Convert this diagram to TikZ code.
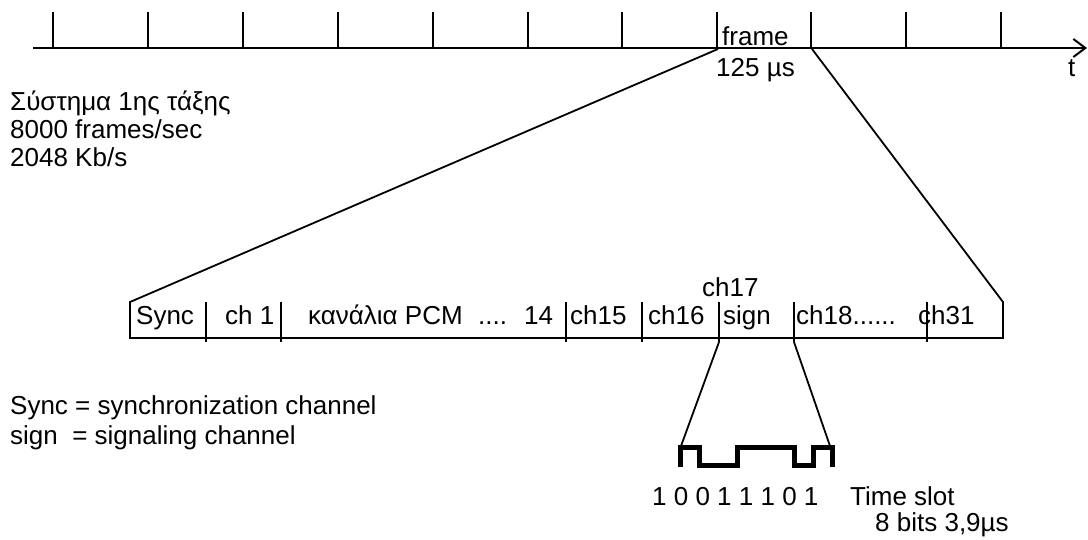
\documentclass[tikz,border=0pt]{standalone}
\usepackage{fontspec}
\setmainfont{Liberation Sans}
\usetikzlibrary{arrows.meta}
\begin{document}
\begin{tikzpicture}[x=1pt,y=-1pt,
  every node/.style={inner sep=0pt,font=\fontsize{26}{30}\selectfont},
  lbl/.style={anchor=base west},
  ln/.style={line width=1.8pt},
  axisline/.style={line width=2.6pt,-{Straight Barb[length=12pt,width=18pt,line width=2pt]}},
  wave/.style={line width=5pt,line cap=butt,line join=miter}]
\useasboundingbox (0,0) rectangle (1088,539);
% time axis
\coordinate (axL) at (33,48);
\coordinate (axR) at (1087,48);
\draw[axisline] (axL) -- (axR);
\foreach \x in {53,148,243,338,433,528,622,717,811,906,1001}
  \draw[ln] (\x,12) -- (\x,48);
\node[lbl] (frame) at (722,45) {frame};
\node[lbl] (mus) at (716,76) {125 µs};
\node[lbl] (t) at (1068,76) {t};
% left texts
\node[lbl] (sys) at (10,110) {Σύστημα 1ης τάξης};
\node[lbl] (fps) at (10,138) {8000 frames/sec};
\node[lbl] (kbs) at (10,166) {2048 Kb/s};
% frame expansion
\coordinate (fA) at (718,49);
\coordinate (fB) at (812,49);
\coordinate (bTL) at (130,302);
\coordinate (bBL) at (130,338);
\coordinate (bBR) at (1003,338);
\coordinate (bTR) at (1003,302);
\draw[ln,line join=miter] (fA) -- (bTL) -- (bBL) -- (bBR) -- (bTR) -- (fB);
\foreach \x in {206,281,566,642,794,927}
  \draw[ln] (\x,302) -- (\x,342);
\coordinate (dAt) at (719,302);
\coordinate (dA) at (719,342);
\coordinate (dBt) at (794,302);
\coordinate (dB) at (794,342);
\draw[ln] (dAt) -- (dA);
% box texts
\node[lbl] (sync) at (136,324) {Sync};
\node[lbl] (ch1) at (225,324) {ch 1};
\node[lbl] (pcm) at (308,324) {κανάλια PCM};
\node[lbl] (dots) at (478,324) {....};
\node[lbl] (n14) at (524,324) {14};
\node[lbl] (ch15) at (570,324) {ch15};
\node[lbl] (ch16) at (648,324) {ch16};
\node[lbl] (sign) at (723,324) {sign};
\node[lbl] (ch17) at (702,296) {ch17};
\node[lbl] (ch18) at (796,324) {ch18......};
\node[lbl] (ch31) at (918,324) {ch31};
% zoom into ch17
\coordinate (wL) at (681,446);
\coordinate (wR) at (830,446);
\draw[ln] (dA) -- (wL);
\draw[ln] (dB) -- (wR);
\draw[wave] (680,467) -- (680,447) -- (699,447) -- (699,465) -- (737,465) -- (737,447)
  -- (794,447) -- (794,465) -- (813,465) -- (813,447) -- (832,447) -- (832,467);
\node[lbl] (bits) at (652,505) {1 0 0 1 1 1 0 1};
\node[lbl] (ts) at (850,505) {Time slot};
\node[lbl] (tsb) at (875,531) {8 bits 3,9µs};
% legend
\node[lbl] (lsync) at (10,414) {Sync = synchronization channel};
\node[lbl] (lsign) at (10,444) {sign\ \ = signaling channel};
\end{tikzpicture}
\end{document}
